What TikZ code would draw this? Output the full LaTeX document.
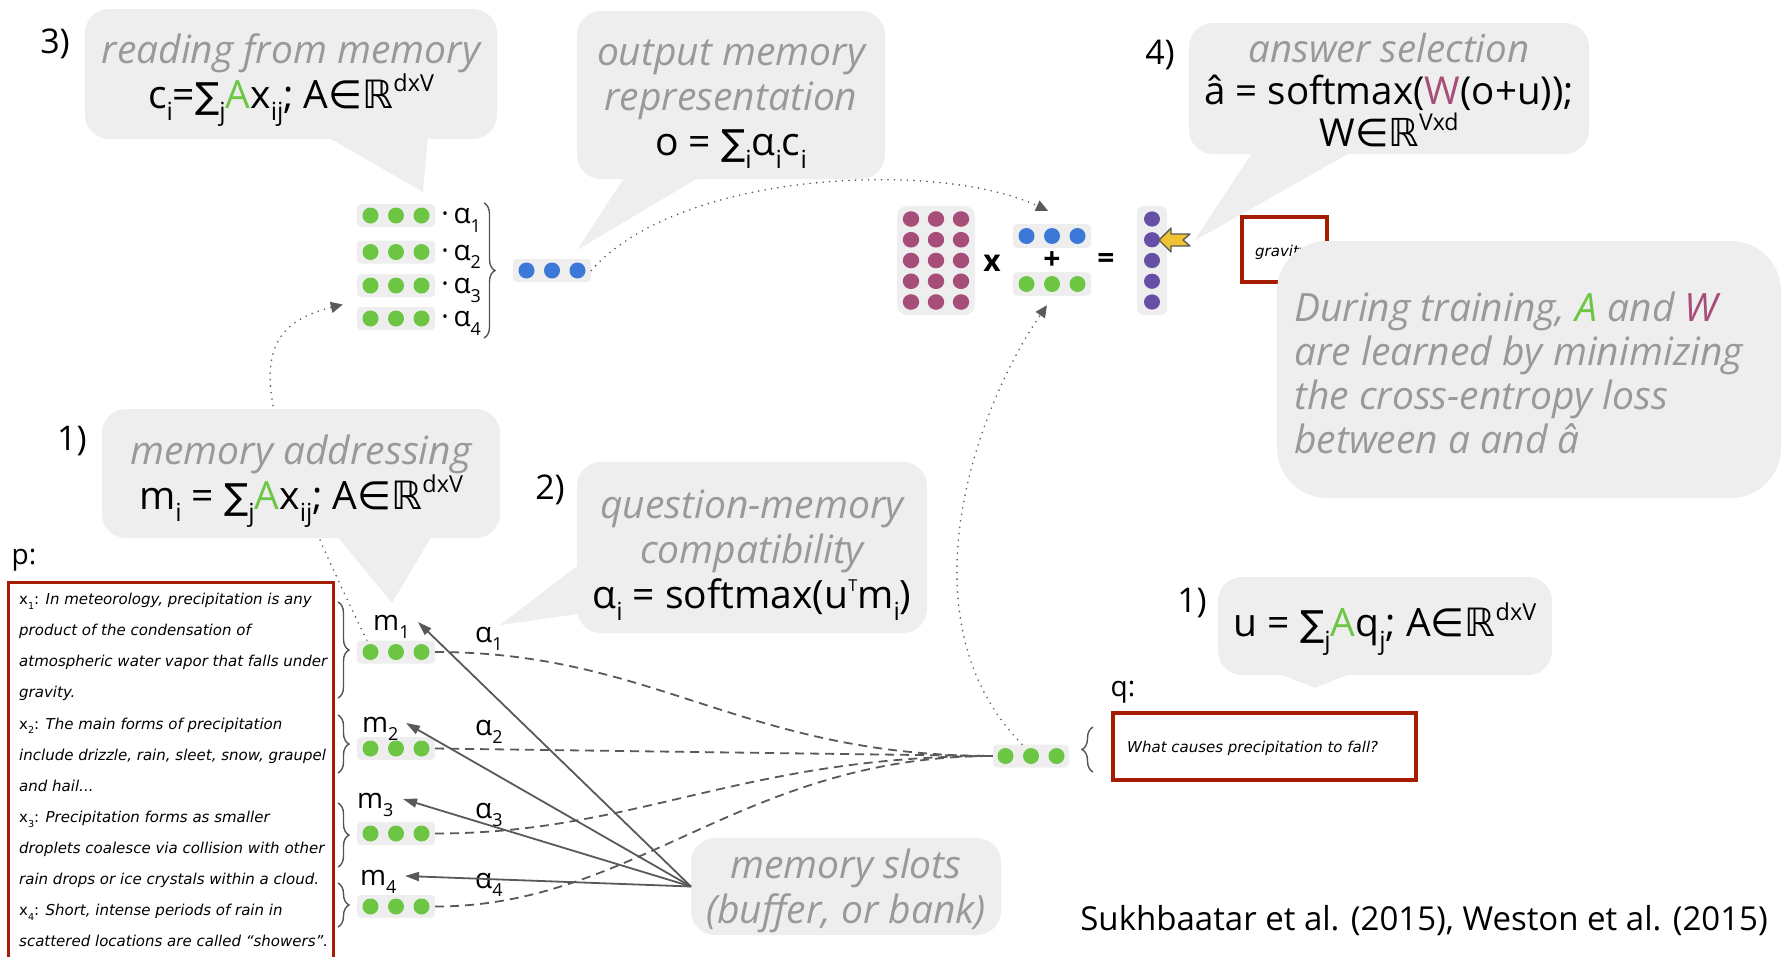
\documentclass[tikz,border=0pt]{standalone}
\usepackage{fontspec}
\setmainfont{Open Sans}
\newfontfamily\dv{DejaVu Sans}
\usetikzlibrary{arrows.meta,decorations.pathreplacing,backgrounds}

\definecolor{bub}{HTML}{EEEEEE}
\definecolor{gtxt}{HTML}{999999}
\definecolor{grn}{HTML}{6CC644}
\definecolor{blu}{HTML}{3C78D8}
\definecolor{wcol}{HTML}{A64D79}
\definecolor{pur}{HTML}{674EA7}
\definecolor{redb}{HTML}{A61C00}
\definecolor{ylw}{HTML}{F1C232}
\definecolor{lnk}{HTML}{595959}
\definecolor{brgray}{HTML}{555555}

\newcommand\lo[1]{\raisebox{-0.32em}{\scalebox{0.64}{#1}}}
\newcommand\hi[1]{\raisebox{0.42em}{\scalebox{0.6}{#1}}}
\newcommand\SUM{{\dv\scalebox{0.92}{∑}}}
\newcommand\IN{{\dv ∈}}
\newcommand\RR{{\dv ℝ}}
\newcommand\Ag{\textcolor{grn}{A}}
\newcommand\Wp{\textcolor{wcol}{W}}
\newcommand\gl[1]{{\color{gtxt}\itshape #1}}
\newcommand\rowdots[2]{\foreach \dx in {-25.5,0,25.5}{\fill[#2] ([xshift=\dx pt]#1.center) circle [radius=8pt];}}
\newcommand\fsA{\fontsize{39}{45}\selectfont\lineskiplimit=-60pt\relax}
\newcommand\fsB{\fontsize{38.5}{42}\selectfont\lineskiplimit=-60pt\relax}

\begin{document}
\begin{tikzpicture}[x=1pt,y=-1pt,
  bubble/.style={fill=bub, rounded corners=24pt, inner sep=0pt, outer sep=0pt},
  rowbg/.style={fill=bub, rounded corners=4pt, minimum width=78pt, minimum height=23pt, inner sep=0pt},
  txt/.style={align=center, inner sep=0pt, font=\fsA},
  num/.style={inner sep=0pt, font=\fontsize{34}{40}\selectfont},
  lbl/.style={inner sep=0pt, anchor=base west, font=\fontsize{28}{30}\selectfont},
  opl/.style={inner sep=0pt, font=\bfseries\fontsize{30}{30}\selectfont},
  brc/.style={decorate, decoration={brace, amplitude=11pt}, draw=brgray, line width=1.4pt},
  dashc/.style={draw=lnk, line width=1.8pt, dash pattern=on 9pt off 6pt},
  dotc/.style={draw=lnk, line width=1.8pt, line cap=round, dash pattern=on 0pt off 6.5pt, -{Triangle[length=12pt,width=11pt]}},
  solidarr/.style={draw=lnk, line width=1.8pt, -{Triangle[length=14pt,width=9pt]}},
  redbox/.style={draw=redb, line width=3.4pt, inner sep=0pt},
  boxtxt/.style={inner sep=0pt, anchor=base west, font=\dv\itshape\fontsize{15}{16}\selectfont}
]
\useasboundingbox (0,0) rectangle (1783,956);
\clip (0,0) rectangle (1783,956);

% ---------- bubbles ----------
\node[bubble, minimum width=412pt, minimum height=130pt] (b1) at (291,74) {};
\fill[bub] (324,135) -- (423,192) -- (428,135) -- cycle;
\node[bubble, minimum width=308pt, minimum height=168pt] (b2) at (731,95) {};
\fill[bub] (626,175) -- (577,250) -- (703,175) -- cycle;
\node[bubble, minimum width=400pt, minimum height=131pt] (b4) at (1389,88.5) {};
\fill[bub] (1254,150) -- (1194,241) -- (1355,150) -- cycle;
\node[bubble, minimum width=398pt, minimum height=129pt] (baddr) at (301,473.5) {};
\fill[bub] (335,534) -- (392,603) -- (433,534) -- cycle;
\node[bubble, minimum width=350pt, minimum height=171pt] (bqm) at (752,547.5) {};
\fill[bub] (585,560) -- (500,625) -- (592,612) -- cycle;
\node[bubble, minimum width=334pt, minimum height=98pt] (bu) at (1385,626) {};
\fill[bub] (1273,671) -- (1315,688) -- (1357,671) -- cycle;
\node[bubble, minimum width=310pt, minimum height=97pt] (slots) at (846,886.5) {};

% red box "gravity" under big bubble
\node[redbox, minimum width=85pt, minimum height=65pt] (gbox) at (1284.5,249.5) {};
\node[boxtxt] (gtext) at (1255,256) {gravity};
\node[bubble, rounded corners=50pt, minimum width=504pt, minimum height=257pt] (btrain) at (1529,369.5) {};

% ---------- rows ----------
\foreach \n/\y in {c1/215.5,c2/252,c3/285.5,c4/318.5}{\node[rowbg] (\n) at (396,\y) {};}
\node[rowbg] (o) at (552,270.5) {};
\foreach \n/\y in {m1/652,m2/748.5,m3/833.5,m4/906.5}{\node[rowbg] (\n) at (396,\y) {};}
\node[rowbg, minimum width=76pt] (q) at (1031,756) {};
\node[rowbg, minimum width=78pt, minimum height=24pt] (ov) at (1052,236) {};
\node[rowbg, minimum width=78pt, minimum height=24pt] (uv) at (1052,284) {};
\node[fill=bub, rounded corners=10pt, minimum width=78pt, minimum height=109pt, inner sep=0pt] (Wm) at (936,260.5) {};
\node[fill=bub, rounded corners=6pt, minimum width=30pt, minimum height=109pt, inner sep=0pt] (ahat) at (1152,260.5) {};

\foreach \n in {c1,c2,c3,c4,m1,m2,m3,m4,q,uv}{\rowdots{\n}{grn}}
\rowdots{o}{blu}
\rowdots{ov}{blu}
\foreach \dx in {-25,0,25}{\foreach \dy in {-41.5,-20.75,0,20.75,41.5}{
  \fill[wcol] ([shift={(\dx pt,\dy pt)}]Wm.center) circle [x radius=8.2pt, y radius=7.8pt];}}
\foreach \dy in {-41.5,-20.75,0,20.75,41.5}{
  \fill[pur] ([yshift=\dy pt]ahat.center) circle [x radius=8pt, y radius=7.6pt];}

% operators
\node[opl] (times) at (992,263) {x};
\node[opl] (plus) at (1052,261) {+};
\node[opl] (eq) at (1106,261) {=};

% yellow arrow
\filldraw[fill=ylw, draw=lnk, line width=1.4pt, line join=round]
  (1159,240) -- (1171,228) -- (1171,234) -- (1190,234) -- (1183,240) -- (1190,246) -- (1171,246) -- (1171,252) -- cycle;

% ---------- braces ----------
\draw[brc] (484,203) -- (484,338);
\draw[brc] (338,602) -- (338,698);
\draw[brc] (338,715) -- (338,773);
\draw[brc] (338,803) -- (338,867);
\draw[brc] (338,883) -- (338,927);
\draw[brc] (1093,772) -- (1093,727);

% ---------- p and q boxes ----------
\node[inner sep=0pt, font=\fontsize{28}{30}\selectfont] (plab) at (24,560) {p:};
\node[redbox, minimum width=325pt, minimum height=400pt, anchor=north west] (pbox) at (7,581) {};
\node[inner sep=0pt, anchor=north west, align=left, font=\dv\itshape\fontsize{15}{31.1}\selectfont] (ptext) at (19,593) {%
{\upshape x\lo{1}:} In meteorology, precipitation is any\\
product of the condensation of\\
atmospheric water vapor that falls under\\
gravity.\\
{\upshape x\lo{2}:} The main forms of precipitation\\
include drizzle, rain, sleet, snow, graupel\\
and hail...\\
{\upshape x\lo{3}:} Precipitation forms as smaller\\
droplets coalesce via collision with other\\
rain drops or ice crystals within a cloud.\\
{\upshape x\lo{4}:} Short, intense periods of rain in\\
scattered locations are called “showers”.};

\node[inner sep=0pt, font=\fontsize{28}{30}\selectfont] (qlab) at (1123,692) {q:};
\node[redbox, minimum width=303pt, minimum height=67pt] (qbox) at (1264.5,746.5) {};
\node[boxtxt] (qtext) at (1127,752) {What causes precipitation to fall?};

% ---------- labels ----------
\node[lbl] (lm1) at (373,630) {m\lo{1}};
\node[lbl] (lm2) at (362,732) {m\lo{2}};
\node[lbl] (lm3) at (357,808) {m\lo{3}};
\node[lbl] (lm4) at (360,885) {m\lo{4}};
\node[lbl] (la1) at (475,642) {α\lo{1}};
\node[lbl] (la2) at (475,735) {α\lo{2}};
\node[lbl] (la3) at (475,818) {α\lo{3}};
\node[lbl] (la4) at (475,888) {α\lo{4}};
\foreach \n/\k in {c1/1,c2/2,c3/3,c4/4}{
  \node[lbl] (w\n) at ([shift={(6pt,-8pt)}]\n.east) {·\,α\lo{\k}};}

% ---------- connectors ----------
\coordinate (t1) at (418,622);
\coordinate (t2) at (406,723);
\coordinate (t3) at (403,799);
\coordinate (t4) at (405,876);
\foreach \t in {t1,t2,t3,t4}{\draw[solidarr] (slots.west) -- (\t);}

\draw[dashc] (m1.east) .. controls +(220,0) and +(-250,0) .. (q.west);
\draw[dashc] (m2.east) -- (q.west);
\draw[dashc] (m3.east) .. controls +(200,0) and +(-250,0) .. (q.west);
\draw[dashc] (m4.east) .. controls +(200,0) and +(-250,0) .. (q.west);

\draw[dotc] (o.east) .. controls (680,170) and (940,160) .. ([xshift=-4pt,yshift=13pt]ov.north);
\draw[dotc] ([xshift=-9pt]q.north) .. controls (900,620) and (975,410) .. ([xshift=-5pt,yshift=-9pt]uv.south);
\begin{pgfonlayer}{background}
\draw[dotc] ([xshift=10pt]m1.north west) .. controls (250,400) and (240,330) .. ([shift={(-14pt,14pt)}]c4.west);
\end{pgfonlayer}

% ---------- texts ----------
\node[num] (n3) at (55,44) {3)};
\node[num] (n4) at (1160,55) {4)};
\node[num] (n1a) at (72,441) {1)};
\node[num] (n2) at (550,490) {2)};
\node[num] (n1b) at (1192,603) {1)};

\node[txt] (b1t) at (291,80) {\gl{reading from memory}\\ c\lo{i}=\SUM\lo{j}\Ag x\lo{ij}; A\IN\RR\hi{dxV}};
\node[txt] (b2t) at (731,104) {\gl{output memory}\\ \gl{representation}\\ o = \SUM\lo{i}α\lo{i}c\lo{i}};
\node[txt, font=\fsB] (b4t) at (1389,90) {\gl{answer selection}\\ â = softmax(\Wp(o+u));\\ W\IN\RR\hi{Vxd}};
\node[txt] (baddrt) at (301,481) {\gl{memory addressing}\\ m\lo{i} = \SUM\lo{j}\Ag x\lo{ij}; A\IN\RR\hi{dxV}};
\node[txt] (bqmt) at (752,555) {\gl{question-memory}\\ \gl{compatibility}\\ α\lo{i} = softmax(u\hi{\scalebox{0.7}{T}}m\lo{i})};
\node[txt] (but) at (1385,629) {u = \SUM\lo{j}\Ag q\lo{j}; A\IN\RR\hi{dxV}};
\node[txt] (slotst) at (846,891) {\gl{memory slots}\\ \gl{(buffer, or bank)}};
\node[align=left, anchor=west, inner sep=0pt, font=\color{gtxt}\itshape\fontsize{39}{44}\selectfont] (traint) at (1294,373)
  {During training, \textcolor{grn}{A} and \textcolor{wcol}{W}\\ are learned by minimizing\\ the cross-entropy loss\\ between a and â};

\node[inner sep=0pt, anchor=east, font=\fontsize{33}{36}\selectfont] (cite) at (1768,921) {Sukhbaatar et al. (2015), Weston et al. (2015)};
\end{tikzpicture}
\end{document}
